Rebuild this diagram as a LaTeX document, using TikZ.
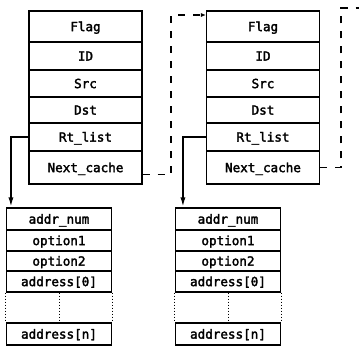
\documentclass[tikz,border=0pt]{standalone}
\usepackage{fontspec}
\newfontfamily\cellfont{DejaVu Sans Mono}[FakeBold=2.4]
\usetikzlibrary{arrows.meta}
\begin{document}
\begin{tikzpicture}[x=1pt,y=-1pt,
  cell/.style={draw, line width=1.1pt, inner sep=0pt, font=\cellfont\fontsize{12.6}{14}\selectfont,
    text height=9.2pt, text depth=0pt, anchor=center},
  topcell/.style={cell, minimum width=113pt},
  botcell/.style={cell, minimum width=105pt},
  ptr/.style={line width=1.8pt, -{Latex[length=10pt,width=5pt]}},
  nxt/.style={line width=1.8pt, dash pattern=on 7pt off 8pt},
  dotline/.style={line width=1pt, dotted}]
\useasboundingbox (0,0) rectangle (359,346);
% top left record
\node[topcell, minimum height=31pt] (fl1) at (85.5,26.5) {Flag};
\node[topcell, minimum height=28pt] (id1) at (85.5,56) {ID};
\node[topcell, minimum height=27pt] (sr1) at (85.5,83.5) {Src};
\node[topcell, minimum height=26pt] (ds1) at (85.5,110) {Dst};
\node[topcell, minimum height=28pt] (rt1) at (85.5,137) {Rt\_list};
\node[topcell, minimum height=33pt] (nc1) at (85.5,167.5) {Next\_cache};
% top right record
\node[topcell, minimum height=31pt] (fl2) at (263,26.5) {Flag};
\node[topcell, minimum height=28pt] (id2) at (263,56) {ID};
\node[topcell, minimum height=27pt] (sr2) at (263,83.5) {Src};
\node[topcell, minimum height=26pt] (ds2) at (263,110) {Dst};
\node[topcell, minimum height=28pt] (rt2) at (263,137) {Rt\_list};
\node[topcell, minimum height=33pt] (nc2) at (263,167.5) {Next\_cache};
% bottom left list
\node[botcell, minimum height=22pt] (an1) at (59,219) {addr\_num};
\node[botcell, minimum height=21pt] (oa1) at (59,240.5) {option1};
\node[botcell, minimum height=20pt] (ob1) at (59,261) {option2};
\node[botcell, minimum height=21pt] (a01) at (59,281.5) {address[0]};
\node[botcell, minimum height=22pt] (ann1) at (59,334) {address[n]};
% bottom right list
\node[botcell, minimum height=22pt] (an2) at (228,219) {addr\_num};
\node[botcell, minimum height=21pt] (oa2) at (228,240.5) {option1};
\node[botcell, minimum height=20pt] (ob2) at (228,261) {option2};
\node[botcell, minimum height=21pt] (a02) at (228,281.5) {address[0]};
\node[botcell, minimum height=22pt] (ann2) at (228,334) {address[n]};
% dotted gaps
\draw[dotline] (a01.south west) -- (ann1.north west);
\draw[dotline] (a01.south east) -- (ann1.north east);
\draw[dotline] (a01.south) -- (ann1.north);
\draw[dotline] (a02.south west) -- (ann2.north west);
\draw[dotline] (a02.south east) -- (ann2.north east);
\draw[dotline] (a02.south) -- (ann2.north);
% Rt_list pointers
\draw[ptr] (rt1.west) -| ([xshift=5pt]an1.north west);
\draw[ptr] (rt2.west) -| ([xshift=8pt]an2.north west);
% Next_cache pointers
\coordinate (c1) at (171,15);
\coordinate (c2) at (341,8);
\coordinate (c2e) at (359,8);
\draw[nxt, -{Latex[length=5pt,width=4pt]}] ([yshift=-7pt]nc1.east) -| (c1) -- (c1 -| fl2.west);
\draw[nxt] (nc2.east) -| (c2) -- (c2e);
\end{tikzpicture}
\end{document}
